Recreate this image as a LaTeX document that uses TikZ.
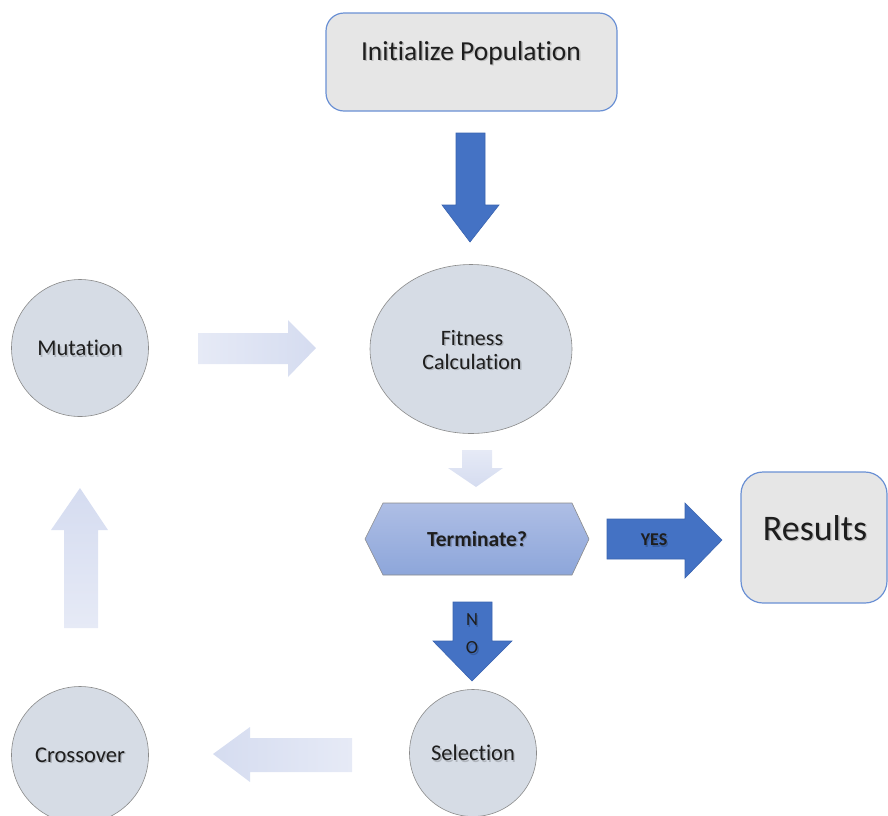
\documentclass[tikz,border=0pt]{standalone}
\usepackage{fontspec}
\setmainfont{Carlito}[Ligatures=NoCommon]
\usetikzlibrary{shapes.geometric,calc}
\definecolor{boxfill}{HTML}{E6E6E6}
\definecolor{boxline}{HTML}{6A90D4}
\definecolor{circfill}{HTML}{D6DCE5}
\definecolor{circline}{HTML}{8A8A8A}
\definecolor{bluearrow}{HTML}{4472C4}
\definecolor{bluearrowline}{HTML}{3A64B0}
\definecolor{paleDeep}{HTML}{D5DCF0}
\definecolor{paleLight}{HTML}{E6EAF6}
\definecolor{hexTop}{HTML}{AEBEE5}
\definecolor{hexBottom}{HTML}{8DA6DA}
\definecolor{ink}{HTML}{1E1E1E}
\tikzset{
  roundbox/.style={draw=boxline, line width=1.2pt, fill=boxfill, rounded corners=18pt},
  stage/.style={circle, draw=circline, line width=0.6pt, fill=circfill, inner sep=0pt},
  label/.style={text=ink, align=center},
  textshadow/.style={text=black, opacity=0.18, align=center},
  bigarrow/.style={fill=bluearrow, draw=bluearrowline, line width=0.6pt},
  hexshape/.style={top color=hexTop, bottom color=hexBottom, draw=circline, line width=0.6pt},
}
% text with a soft drop shadow
\newcommand{\shadowlabel}[4]{%
  \node[textshadow, font=#3] (#1s) at ($(#2)+(1.4,1.4)$) {#4};
  \node[label, font=#3] (#1) at (#2) {#4};}
\begin{document}
\begin{tikzpicture}[x=1pt, y=-1pt]
\useasboundingbox (0,0) rectangle (888,815);

% start box
\draw[roundbox] (326,13) rectangle (617,111);
\shadowlabel{init}{471,53}{\fontsize{27.5}{32}\selectfont}{Initialize Population}

% arrow into fitness
\draw[bigarrow] (456,133) -- (485,133) -- (485,205) -- (499,205) -- (470,242)
  -- (442,205) -- (456,205) -- cycle;

% fitness ellipse
\node[ellipse, draw=circline, line width=0.6pt, fill=circfill,
  minimum width=202pt, minimum height=169pt, inner sep=0pt] (fit) at (471,349) {};
\shadowlabel{fitt}{472,350}{\fontsize{22}{24}\selectfont}{Fitness\\Calculation}

% GA loop stages
\node[stage, minimum size=137pt] (mut) at (80,348) {};
\node[stage, minimum size=137pt] (cross) at (80,755) {};
\node[stage, minimum size=127pt] (sel) at (473,753) {};
\shadowlabel{mutt}{mut}{\fontsize{22.5}{26}\selectfont}{Mutation}
\shadowlabel{crosst}{cross}{\fontsize{22.5}{26}\selectfont}{Crossover}
\shadowlabel{selt}{sel}{\fontsize{22.5}{26}\selectfont}{Selection}

% pale loop arrows
\shade[left color=paleLight, right color=paleDeep] (198,333) -- (288,333) -- (288,320)
  -- (316,348) -- (288,377) -- (288,364) -- (198,364) -- cycle;
\shade[top color=paleLight, bottom color=paleDeep] (462,450) -- (492,450) -- (492,468)
  -- (503,468) -- (476,487) -- (448,468) -- (462,468) -- cycle;
\shade[right color=paleLight, left color=paleDeep] (352,738) -- (250,738) -- (250,727)
  -- (213,754) -- (250,782) -- (250,772) -- (352,772) -- cycle;
\shade[bottom color=paleLight, top color=paleDeep] (64,628) -- (64,530) -- (51,530)
  -- (80,488) -- (108,530) -- (98,530) -- (98,628) -- cycle;

% decision
\draw[hexshape] (365,539) -- (383,503) -- (572,503) -- (589,539) -- (572,575)
  -- (383,575) -- cycle;
\shadowlabel{term}{477,539}{\bfseries\fontsize{21.5}{25}\selectfont}{Terminate?}

% yes branch
\draw[bigarrow] (607,519) -- (685,519) -- (685,503) -- (722,540) -- (685,578)
  -- (685,559) -- (607,559) -- cycle;
\shadowlabel{yes}{654,540}{\bfseries\fontsize{18}{20}\selectfont}{YES}

\draw[roundbox, rounded corners=22pt] (741,472) rectangle (887,603);
\shadowlabel{res}{815,528}{\fontsize{36}{42}\selectfont}{Results}

% no branch
\draw[bigarrow] (453,602) -- (492,602) -- (492,641) -- (512,641) -- (472,681)
  -- (433,641) -- (453,641) -- cycle;
\shadowlabel{no}{472,634}{\fontsize{18.5}{28}\selectfont}{N\\O}
\end{tikzpicture}
\end{document}
